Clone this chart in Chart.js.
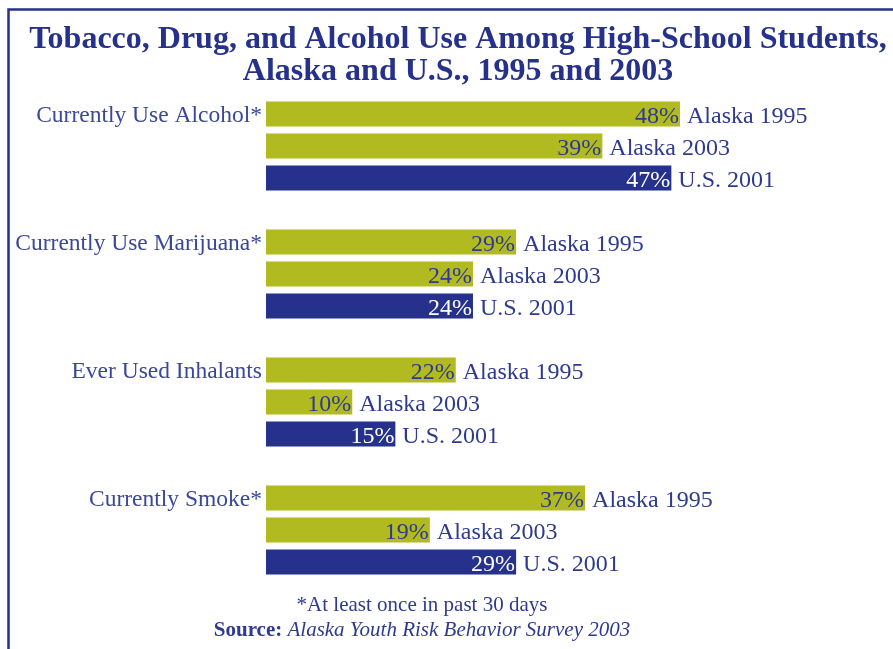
<!DOCTYPE html>
<html lang="en">
<head>
  <meta charset="UTF-8">
  <title>Tobacco, Drug, and Alcohol Use Among High-School Students</title>
  <script src="https://cdn.jsdelivr.net/npm/chart.js"></script>
  <style>
    html, body { margin: 0; padding: 0; background: #ffffff; }
    #wrap { width: 893px; height: 649px; }
  </style>
</head>
<body>
  <div id="wrap"><canvas id="useChart" width="893" height="649"></canvas></div>

  <script>
    const categories = ['Currently Use Alcohol*', 'Currently Use Marijuana*', 'Ever Used Inhalants', 'Currently Smoke*'];
    const seriesNames = ['Alaska 1995', 'Alaska 2003', 'U.S. 2001'];
    const alaska1995 = [48, 29, 22, 37];
    const alaska2003 = [39, 24, 10, 19];
    const us2001 = [47, 24, 15, 29];

    const titleLines = ['Tobacco, Drug, and Alcohol Use Among High-School Students,', 'Alaska and U.S., 1995 and 2003'];
    const footnote = '*At least once in past 30 days';
    const sourceLabel = 'Source: ';
    const sourceText = 'Alaska Youth Risk Behavior Survey 2003';

    const GREEN = '#b1bb1f';
    const NAVY = '#25318a';
    const TEXT = '#2e3a8e';
    const SERIF = '"Liberation Serif", "DejaVu Serif", serif';

    // one row per bar, with an empty row between the groups
    const rowLabels = [];
    const rowValues = [];
    const rowSeries = [];
    const allSeries = [alaska1995, alaska2003, us2001];
    categories.forEach((cat, i) => {
      allSeries.forEach((s, k) => {
        rowLabels.push(k === 0 ? cat : '');
        rowValues.push(s[i]);
        rowSeries.push(k);
      });
      if (i < categories.length - 1) {
        rowLabels.push('');
        rowValues.push(null);
        rowSeries.push(-1);
      }
    });

    const barLabels = {
      id: 'barLabels',
      afterDatasetsDraw(chart) {
        const ctx = chart.ctx;
        const meta = chart.getDatasetMeta(0);
        ctx.save();
        ctx.font = '24px ' + SERIF;
        ctx.textBaseline = 'alphabetic';
        meta.data.forEach((bar, i) => {
          const v = rowValues[i];
          if (v === null) return;
          const k = rowSeries[i];
          ctx.fillStyle = k === 2 ? '#ffffff' : TEXT;
          ctx.textAlign = 'right';
          ctx.fillText(v + '%', bar.x - 1, bar.y + 9);
          ctx.fillStyle = TEXT;
          ctx.textAlign = 'left';
          ctx.fillText(seriesNames[k], bar.x + 7, bar.y + 9);
        });
        ctx.restore();
      }
    };

    // frame, heading and source notes around the bars
    const frameAndNotes = {
      id: 'frameAndNotes',
      beforeDraw(chart) {
        const ctx = chart.ctx;
        ctx.save();
        ctx.strokeStyle = NAVY;
        ctx.lineWidth = 2.5;
        ctx.beginPath();
        ctx.moveTo(8.5, 649);
        ctx.lineTo(8.5, 9.5);
        ctx.lineTo(893, 9.5);
        ctx.stroke();
        ctx.restore();
      },
      afterDraw(chart) {
        const ctx = chart.ctx;
        ctx.save();
        ctx.textBaseline = 'alphabetic';
        ctx.textAlign = 'center';

        ctx.fillStyle = NAVY;
        ctx.font = 'bold 32px ' + SERIF;
        ctx.fillText(titleLines[0], 458, 48);
        ctx.fillText(titleLines[1], 458, 80);

        const cx = 422;
        const y0 = chart.chartArea.bottom;
        ctx.fillStyle = TEXT;
        ctx.font = '21px ' + SERIF;
        ctx.fillText(footnote, cx, y0 + 33);

        const bold = 'bold 21px ' + SERIF;
        const ital = 'italic 21px ' + SERIF;
        ctx.font = bold;
        const wa = ctx.measureText(sourceLabel).width;
        ctx.font = ital;
        const wb = ctx.measureText(sourceText).width;
        const x = cx - (wa + wb) / 2;
        ctx.textAlign = 'left';
        ctx.font = bold;
        ctx.fillText(sourceLabel, x, y0 + 58);
        ctx.font = ital;
        ctx.fillText(sourceText, x + wa, y0 + 58);
        ctx.restore();
      }
    };

    new Chart(document.getElementById('useChart'), {
      type: 'bar',
      data: {
        labels: rowLabels,
        datasets: [{
          data: rowValues,
          backgroundColor: rowSeries.map(k => k === 2 ? NAVY : GREEN),
          borderWidth: 0,
          barPercentage: 1,
          categoryPercentage: 0.78
        }]
      },
      options: {
        indexAxis: 'y',
        responsive: false,
        devicePixelRatio: 1,
        animation: false,
        layout: { padding: { top: 98, left: 0, right: 0, bottom: 71 } },
        plugins: {
          legend: { display: false },
          tooltip: { enabled: false },
          title: { display: false }
        },
        scales: {
          x: {
            display: false,
            min: 0,
            max: 72.7
          },
          y: {
            grid: { display: false, drawTicks: false },
            border: { display: false },
            afterFit(scale) { scale.width = 266; },
            ticks: {
              autoSkip: false,
              color: '#3a479a',
              padding: 4,
              labelOffset: 2,
              font: { family: SERIF, size: 23.5 }
            }
          }
        }
      },
      plugins: [frameAndNotes, barLabels]
    });
  </script>
</body>
</html>
